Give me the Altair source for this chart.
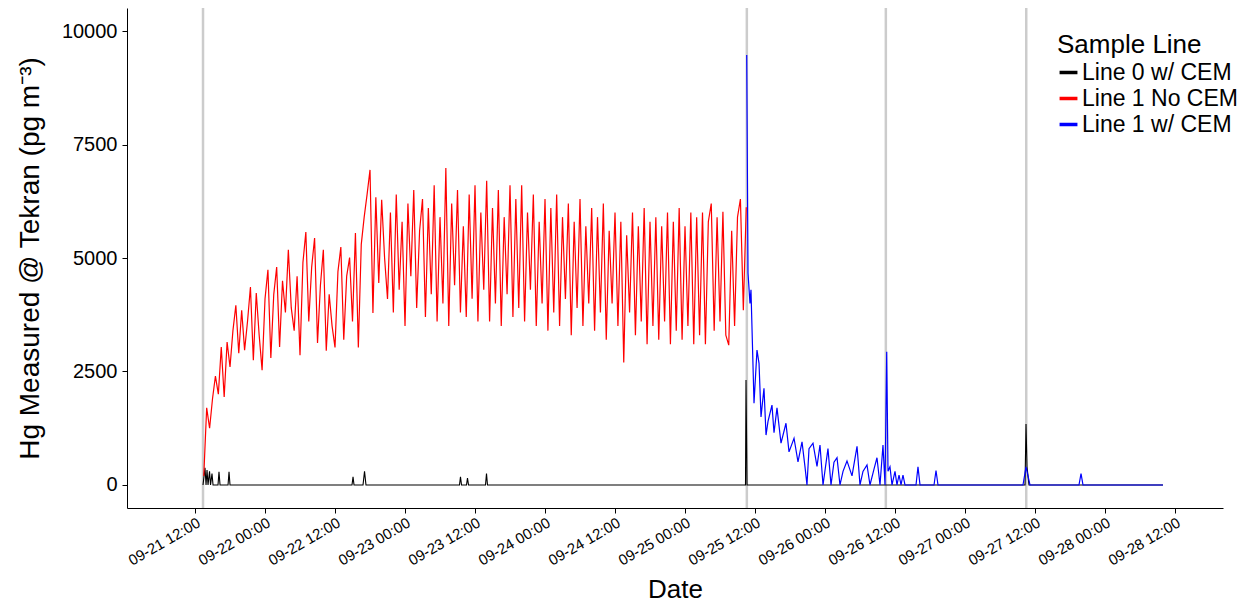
import altair as alt
import pandas as pd
import numpy as np

BASE = pd.Timestamp("2017-09-21 12:00:00")

series_names = ["Line 0 w/ CEM", "Line 1 No CEM", "Line 1 w/ CEM"]
series_colors = ["#000000", "#FF0000", "#0000FF"]

# Line 1 No CEM: readings every 30 min from 09-21 13:30
red_start_h = 1.5
red_step_h = 0.5
red_values = [
    200, 1700, 1250, 1900, 2400, 2000, 3040, 1940, 3150, 2600, 3400, 3960,
    2900, 3850, 2970, 3600, 4360, 2750, 4230, 3300, 2530, 4100, 4740, 2800,
    4200, 4800, 3040, 4500, 3800, 5180, 3900, 3400, 4600, 2860, 4900, 5570,
    3600, 4800, 5440, 3130, 4400, 5180, 2960, 4200, 3500, 3030, 4700, 5240,
    3200, 4600, 5010, 3600, 5550, 3030, 5300, 5900, 6400, 6940, 3790, 6340,
    4450, 6280, 5000, 4100, 6000, 3800, 6400, 4300, 5800, 3500, 6200, 4600,
    6500, 3900, 5600, 6300, 3700, 6100, 4200, 6600, 3600, 5900, 4000, 6980,
    3500, 6200, 4400, 6500, 3800, 5700, 3700, 6400, 4100, 6600, 3600, 6000,
    4300, 6700, 3600, 6100, 4000, 6500, 3500, 5900, 4200, 6600, 3700, 6300,
    3900, 6600, 3600, 6000, 4300, 6400, 3500, 5800, 4000, 6300, 3400, 6100,
    3800, 6400, 3500, 5900, 4100, 6200, 3300, 5800, 3900, 6300, 3500, 5700,
    4000, 6100, 3400, 5900, 3800, 6200, 3200, 5600, 4000, 6000, 3500, 5800,
    2700, 5500, 3800, 6000, 3300, 5700, 3600, 6100, 3100, 5800, 3500, 5900,
    3200, 5700, 3600, 6000, 3100, 5800, 3400, 6100, 3200, 5700, 3500, 6000,
    3100, 5900, 3300, 6000, 3100, 5800, 6200, 3400, 5900, 3600, 6020, 3300,
    3080, 5600, 3500, 5900, 6300, 3850, 6120,
]

# Line 1 w/ CEM: hours after 09-21 12:00 and values
blue_hours = [
    94.58, 94.80, 95.14, 95.31, 95.83, 96.34, 96.69, 97.03, 97.54, 97.89,
    98.23, 98.91, 99.26, 99.77, 100.46, 101.31, 101.83, 102.69, 103.37, 104.06,
    104.57, 104.91, 105.26, 105.94, 106.63, 107.14, 107.66, 108.51, 109.03, 109.54,
    110.06, 110.57, 111.09, 111.77, 112.63, 113.49, 114.00, 114.51, 115.20, 115.71,
    116.40, 116.91, 117.43, 117.94, 118.29, 118.58, 118.80, 119.14, 119.49, 120.00,
    120.34, 120.69, 121.03, 121.37, 121.71, 123.60, 123.94, 124.29, 126.69, 127.03,
    127.37, 141.94, 142.46, 143.14, 151.54, 151.89, 152.23, 165.94,
]
blue_values = [
    9470, 4670, 4000, 4300, 1800, 2970, 2680, 1500, 2130, 1100,
    1400, 1760, 1150, 1700, 920, 1360, 730, 1030, 510, 950,
    400, 0, 800, 920, 410, 880, 0, 800, 0, 500,
    600, 0, 300, 530, 200, 850, 0, 300, 440, 0,
    350, 600, 0, 880, 0, 2936, 300, 400, 0, 300,
    0, 220, 0, 220, 0, 0, 400, 0, 0, 320,
    0, 0, 400, 0, 0, 250, 0, 0,
]

# Line 0 w/ CEM
black_hours = [
    1.37, 1.71, 1.89, 2.06, 2.23, 2.49, 2.66, 2.91, 3.09,
    3.94, 4.11, 4.29, 5.66, 5.83, 6.00,
    26.91, 27.09, 27.26, 28.80, 29.06, 29.31,
    45.34, 45.51, 45.69, 46.54, 46.71, 46.89, 49.80, 49.97, 50.14,
    94.37, 94.46, 94.63, 142.29, 142.46, 142.63, 142.97, 165.94,
]
black_values = [
    0, 380, 0, 330, 0, 300, 0, 250, 0,
    0, 290, 0, 0, 290, 0,
    0, 180, 0, 0, 300, 0,
    0, 180, 0, 0, 150, 0, 0, 250, 0,
    0, 2310, 0, 0, 1343, 400, 0, 0,
]

vline_hours = [1.37, 94.6, 118.43, 142.5]
tick_hours = [0, 12, 24, 36, 48, 60, 72, 84, 96, 108, 120, 132, 144, 156, 168]
y_ticks = [0, 2500, 5000, 7500, 10000]
x_domain_hours = [-11.66, 176.23]
y_domain = [-507, 10507]


def iso(h):
    return (BASE + pd.to_timedelta(h, unit="h")).strftime("%Y-%m-%dT%H:%M:%SZ")


def dt(h):
    t = BASE + pd.to_timedelta(h, unit="h")
    return alt.DateTime(year=t.year, month=t.month, date=t.day,
                        hours=t.hour, minutes=t.minute, seconds=t.second, utc=True)


red_hours = [red_start_h + red_step_h * i for i in range(len(red_values))]

rows = []
for h, v in zip(black_hours, black_values):
    rows.append({"t": iso(h), "v": v, "s": series_names[0]})
for h, v in zip(red_hours, red_values):
    rows.append({"t": iso(h), "v": v, "s": series_names[1]})
for h, v in zip(blue_hours, blue_values):
    rows.append({"t": iso(h), "v": v, "s": series_names[2]})
df = pd.DataFrame(rows)

vdf = pd.DataFrame({"t": [iso(h) for h in vline_hours]})

FONT = "Liberation Sans, Arial, Helvetica, sans-serif"

x_scale = alt.Scale(type="utc", domain=[dt(x_domain_hours[0]), dt(x_domain_hours[1])])
y_scale = alt.Scale(domain=y_domain, nice=False, zero=False)

color = alt.Color(
    "s:N",
    scale=alt.Scale(domain=series_names, range=series_colors),
    legend=alt.Legend(
        title="Sample Line", orient="none", legendX=930, legendY=24,
        symbolType="stroke", symbolStrokeWidth=3.5, symbolSize=320,
        titleFontSize=26, titleFontWeight="normal", titleColor="black",
        labelFontSize=23, labelColor="black", rowPadding=2, titlePadding=3,
        labelOffset=2, titleFont=FONT, labelFont=FONT, labelLimit=400,
    ),
)

x_enc = alt.X(
    "t:T", scale=x_scale,
    axis=alt.Axis(
        title="Date", values=[dt(h) for h in tick_hours],
        labelExpr="utcFormat(datum.value, '%m-%d %H:%M')",
        labelAngle=330, labelAlign="right", labelBaseline="top",
        labelFontSize=15, labelPadding=2, labelColor="black",
        titleFontSize=26, titleFontWeight="normal", titleColor="black",
        titleX=548, titleY=89, titleAlign="center", titleBaseline="alphabetic",
        tickSize=5, tickColor="black", domainColor="black", grid=False,
        labelFlush=False, labelOverlap=False,
    ),
)
y_enc = alt.Y(
    "v:Q", scale=y_scale,
    axis=alt.Axis(
        title="Hg Measured @ Tekran (pg m⁻³)", values=y_ticks, format="d",
        labelFontSize=20, labelPadding=5, labelColor="black",
        titleFontSize=28, titleFontWeight="normal", titleColor="black",
        titleX=-97, titleY=250, titleAngle=270, titleAlign="center",
        titleBaseline="middle",
        tickSize=5, tickColor="black", domainColor="black", grid=False,
    ),
)

rules = alt.Chart(vdf).mark_rule(color="#cccccc", strokeWidth=2.5).encode(
    x=alt.X("t:T", scale=x_scale)
)

layers = [rules]
for name, w in zip(series_names, [1.1, 1.2, 1.2]):
    layers.append(
        alt.Chart(df).transform_filter(alt.datum.s == name)
        .mark_line(strokeWidth=w, clip=True)
        .encode(x=x_enc, y=y_enc, color=color)
    )

chart = alt.layer(*layers).properties(
    width=1096, height=500,
    autosize=alt.AutoSizeParams(type="none"),
    padding={"left": 119, "top": 0, "right": 16, "bottom": 95},
).configure(font=FONT).configure_view(
    strokeWidth=0, stroke="transparent"
).configure_axis(labelFont=FONT, titleFont=FONT)

chart.save("out.html", embed_options={"renderer": "svg", "actions": False})
